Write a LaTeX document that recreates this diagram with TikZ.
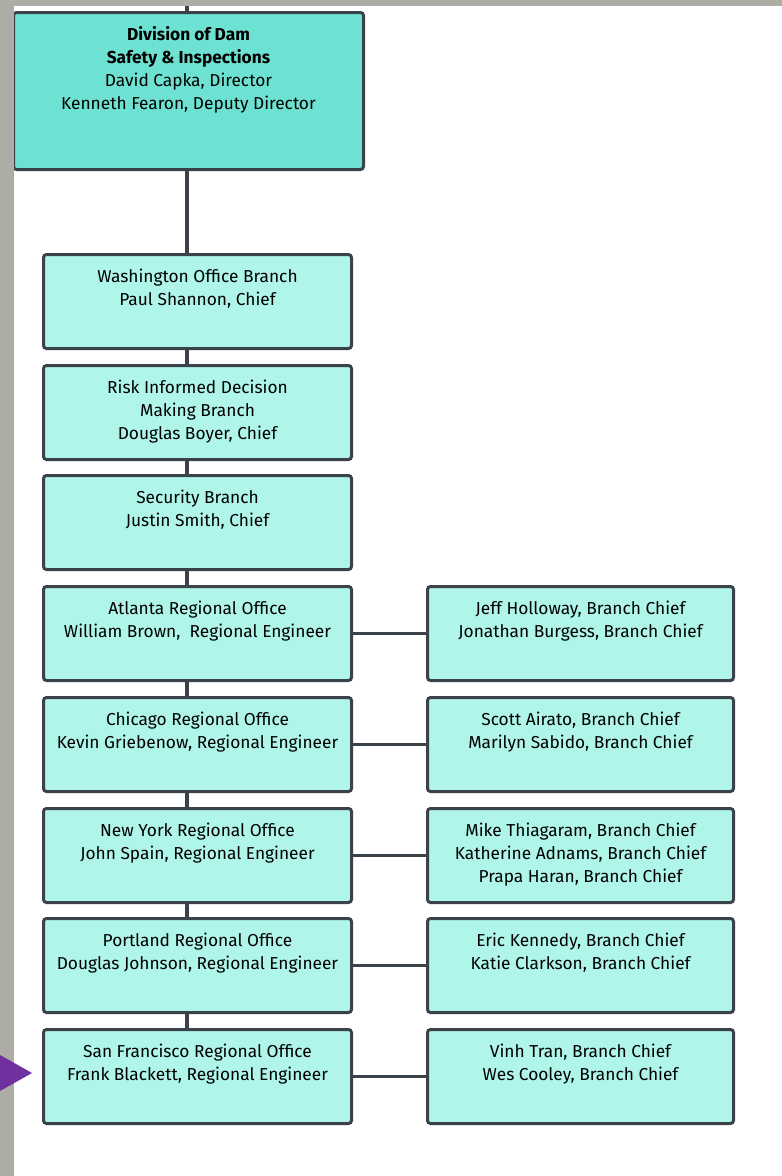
\documentclass[tikz,border=0pt]{standalone}
\usepackage{fontspec}
\setmainfont{Fira Sans}
\definecolor{rootteal}{RGB}{110,226,210}
\definecolor{boxteal}{RGB}{175,245,234}
\definecolor{edgegray}{RGB}{59,66,74}
\definecolor{framegray}{RGB}{173,173,165}
\definecolor{markpurple}{RGB}{112,48,160}
\usepackage{tikz}
\usetikzlibrary{positioning,backgrounds}

% text block, top aligned inside a box of fixed size
\newcommand{\orgtext}[3]{\parbox[t][#2][t]{#1}{\centering\fontsize{17.3}{23}\selectfont\rule{0pt}{27.5pt}#3}}

\tikzset{
    orgbox/.style={draw=edgegray,line width=3pt,rounded corners=3pt,fill=boxteal,inner sep=0pt,anchor=north west},
    rootbox/.style={orgbox,fill=rootteal},
    link/.style={draw=edgegray,line width=3.2pt}
}

\begin{document}
\begin{tikzpicture}[x=1pt,y=-1pt]
    \useasboundingbox (0,0) rectangle (782,1176);

    \node[rootbox] (division) at (12,11) {\orgtext{350pt}{157pt}{\textbf{Division of Dam}\\\textbf{Safety \& Inspections}\\David Capka, Director\\Kenneth Fearon, Deputy Director}};

    % branches
    \node[orgbox] (washington) at (42,253) {\orgtext{308pt}{94pt}{Washington Office Branch\\Paul Shannon, Chief}};
    \node[orgbox] (riskbranch) at (42,364) {\orgtext{308pt}{94pt}{Risk Informed Decision\\Making Branch\\Douglas Boyer, Chief}};
    \node[orgbox] (security) at (42,474) {\orgtext{308pt}{94pt}{Security Branch\\Justin Smith, Chief}};

    % regional offices
    \node[orgbox] (atlanta) at (42,585) {\orgtext{308pt}{94pt}{Atlanta Regional Office\\William Brown,\ \ Regional Engineer}};
    \node[orgbox] (chicago) at (42,696) {\orgtext{308pt}{94pt}{Chicago Regional Office\\Kevin Griebenow, Regional Engineer}};
    \node[orgbox] (newyork) at (42,807) {\orgtext{308pt}{94pt}{New York Regional Office\\John Spain, Regional Engineer}};
    \node[orgbox] (portland) at (42,917) {\orgtext{308pt}{94pt}{Portland Regional Office\\Douglas Johnson, Regional Engineer}};
    \node[orgbox] (sanfrancisco) at (42,1028) {\orgtext{308pt}{94pt}{San Francisco Regional Office\\Frank Blackett, Regional Engineer}};

    % branch chiefs
    \node[orgbox] (atlantachiefs) at (426,585) {\orgtext{306pt}{94pt}{Jeff Holloway, Branch Chief\\Jonathan Burgess, Branch Chief}};
    \node[orgbox] (chicagochiefs) at (426,696) {\orgtext{306pt}{94pt}{Scott Airato, Branch Chief\\Marilyn Sabido, Branch Chief}};
    \node[orgbox] (newyorkchiefs) at (426,807) {\orgtext{306pt}{94pt}{Mike Thiagaram, Branch Chief\\Katherine Adnams, Branch Chief\\Prapa Haran, Branch Chief}};
    \node[orgbox] (portlandchiefs) at (426,917) {\orgtext{306pt}{94pt}{Eric Kennedy, Branch Chief\\Katie Clarkson, Branch Chief}};
    \node[orgbox] (sanfranciscochiefs) at (426,1028) {\orgtext{306pt}{94pt}{Vinh Tran, Branch Chief\\Wes Cooley, Branch Chief}};

    \coordinate (spinetop) at (187,0);

    \begin{scope}[on background layer]
        \draw[link] (spinetop) -- (sanfrancisco.north -| spinetop);
        \draw[link] (atlanta) -- (atlantachiefs);
        \draw[link] (chicago) -- (chicagochiefs);
        \draw[link] (newyork) -- (newyorkchiefs);
        \draw[link] (portland) -- (portlandchiefs);
        \draw[link] (sanfrancisco) -- (sanfranciscochiefs);
    \end{scope}

    % page frame and marker
    \fill[framegray] (0,0) rectangle (782,6);
    \fill[framegray] (0,0) rectangle (14,1176);
    \fill[markpurple] (0,1055) -- (32,1073) -- (0,1091) -- cycle;
\end{tikzpicture}
\end{document}
